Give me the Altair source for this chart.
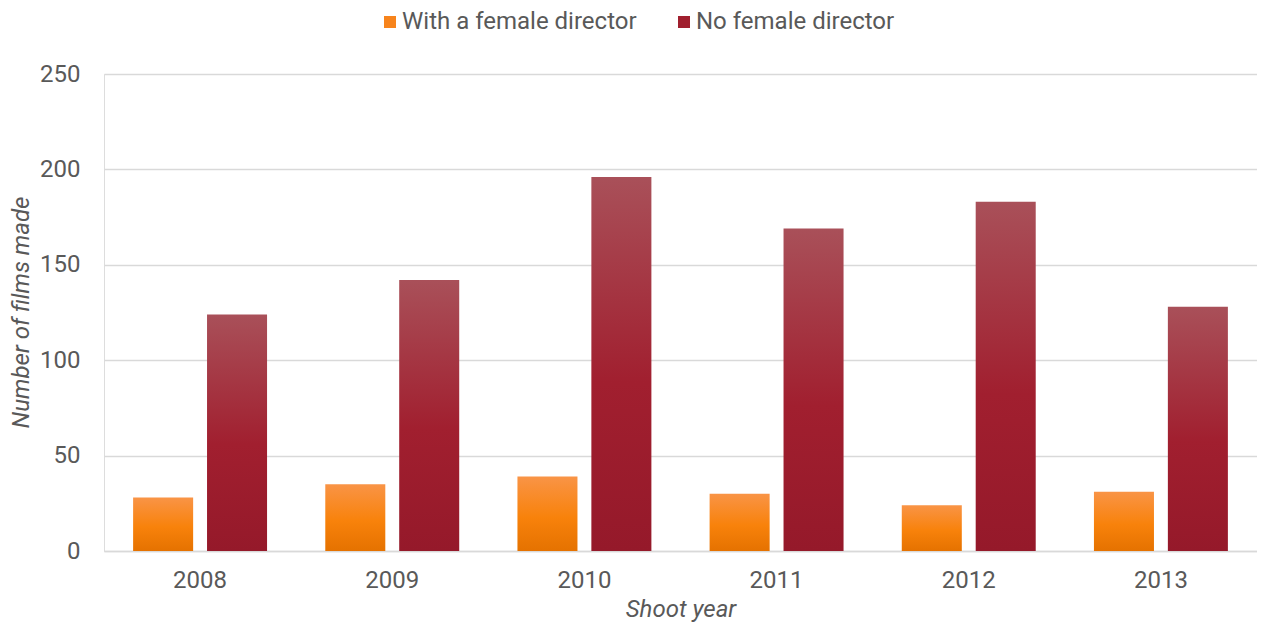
import altair as alt
import pandas as pd

years = ["2008", "2009", "2010", "2011", "2012", "2013"]
with_female = [28, 35, 39, 30, 24, 31]
no_female = [124, 142, 196, 169, 183, 128]
series_names = ["With a female director", "No female director"]
y_ticks = [0, 50, 100, 150, 200, 250]

rows = []
for yr, a, b in zip(years, with_female, no_female):
    rows.append({"year": yr, "series": series_names[0], "value": a})
    rows.append({"year": yr, "series": series_names[1], "value": b})
df = pd.DataFrame(rows)

FONT = "Roboto"
TXT = "#595959"
FS = 24

orange_grad = alt.LinearGradient(
    gradient="linear",
    stops=[alt.GradientStop(color="#f99446", offset=0),
           alt.GradientStop(color="#f8820b", offset=0.55),
           alt.GradientStop(color="#e57200", offset=1)],
    x1=0, x2=0, y1=0, y2=1)
red_grad = alt.LinearGradient(
    gradient="linear",
    stops=[alt.GradientStop(color="#a95059", offset=0),
           alt.GradientStop(color="#a11f2f", offset=0.55),
           alt.GradientStop(color="#95192a", offset=1)],
    x1=0, x2=0, y1=0, y2=1)

x_enc = alt.X("year:N", sort=years,
              scale=alt.Scale(paddingInner=0.303, paddingOuter=0.1515),
              title="Shoot year",
              axis=alt.Axis(domain=True, domainColor="#d9d9d9", domainWidth=1.5,
                            ticks=False, grid=False, labelAngle=0,
                            labelFont=FONT, labelFontSize=FS, labelColor=TXT,
                            labelPadding=17,
                            titleFont=FONT, titleFontSize=FS, titleColor=TXT,
                            titleFontStyle="italic", titleFontWeight="normal",
                            titleY=58, titleBaseline="middle"))
xo_enc = alt.XOffset("series:N", sort=series_names,
                     scale=alt.Scale(domain=series_names, paddingInner=0.188, paddingOuter=0))
y_enc = alt.Y("value:Q", scale=alt.Scale(domain=[0, 250]),
              title="Number of films made",
              axis=alt.Axis(values=y_ticks, domain=False, ticks=False, grid=True,
                            gridColor="#d9d9d9", gridWidth=1.5,
                            labelFont=FONT, labelFontSize=FS, labelColor=TXT,
                            labelPadding=24,
                            titleFont=FONT, titleFontSize=FS, titleColor=TXT,
                            titleFontStyle="italic", titleFontWeight="normal",
                            titleX=-83, titleY=238, titleAngle=270,
                            titleAlign="center", titleBaseline="middle"))

legend_layer = alt.Chart(df).mark_bar(opacity=0).encode(
    x=x_enc, xOffset=xo_enc, y=y_enc,
    color=alt.Color("series:N", sort=series_names,
                    scale=alt.Scale(domain=series_names, range=["#f7841c", "#a01f2e"]),
                    legend=alt.Legend(orient="none", legendX=274, legendY=-64,
                                      direction="horizontal", title=None,
                                      symbolType="square", symbolSize=144,
                                      symbolOpacity=1, symbolStrokeWidth=0,
                                      labelFont=FONT, labelFontSize=FS,
                                      labelColor=TXT, labelOffset=0,
                                      labelLimit=0, columnPadding=35)))

orange = alt.Chart(df).transform_filter(
    alt.datum.series == series_names[0]
).mark_bar(fill=orange_grad).encode(x=x_enc, xOffset=xo_enc, y=y_enc)

red = alt.Chart(df).transform_filter(
    alt.datum.series == series_names[1]
).mark_bar(fill=red_grad).encode(x=x_enc, xOffset=xo_enc, y=y_enc)

chart = alt.layer(legend_layer, orange, red).properties(
    width=1153, height=477,
    autosize=alt.AutoSizeParams(type="none"),
    padding={"left": 96, "top": 66, "right": 0, "bottom": 71},
).configure_view(stroke=None).configure(background="white")

chart.save("out.html", embed_options={"renderer": "svg", "actions": False})
